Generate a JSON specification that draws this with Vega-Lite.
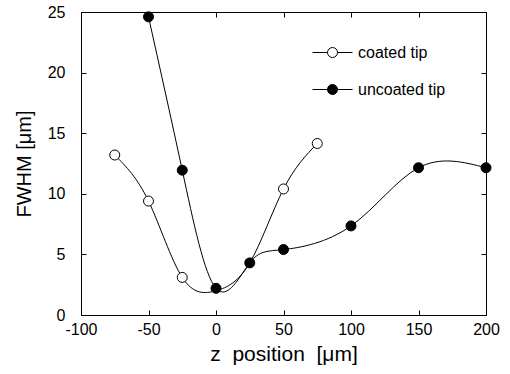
{
  "$schema": "https://vega.github.io/schema/vega-lite/v6.json",
  "autosize": "none",
  "width": 405,
  "height": 303,
  "padding": {"left": 81, "top": 12, "right": 24, "bottom": 59},
  "background": "white",
  "config": {
    "font": "Liberation Sans",
    "view": {"stroke": "black", "strokeWidth": 1},
    "axis": {"grid": false, "domainColor": "black", "tickColor": "black", "labelColor": "black", "titleColor": "black", "labelFont": "Liberation Sans", "titleFont": "Liberation Sans", "labelFontSize": 16, "titleFontSize": 20, "titleFontWeight": "normal", "tickSize": -5, "domainWidth": 1, "tickWidth": 1}
  },
  "data": {"values": [
    {"series": "coated tip", "z": -75, "fwhm": 13.2},
    {"series": "coated tip", "z": -50, "fwhm": 9.4},
    {"series": "coated tip", "z": -25, "fwhm": 3.1},
    {"series": "coated tip", "z": 0, "fwhm": 2.0},
    {"series": "coated tip", "z": 25, "fwhm": 4.3},
    {"series": "coated tip", "z": 50, "fwhm": 10.4},
    {"series": "coated tip", "z": 75, "fwhm": 14.15},
    {"series": "uncoated tip", "z": -50, "fwhm": 24.6},
    {"series": "uncoated tip", "z": -25, "fwhm": 11.95},
    {"series": "uncoated tip", "z": 0, "fwhm": 2.2},
    {"series": "uncoated tip", "z": 25, "fwhm": 4.3},
    {"series": "uncoated tip", "z": 50, "fwhm": 5.4},
    {"series": "uncoated tip", "z": 100, "fwhm": 7.35},
    {"series": "uncoated tip", "z": 150, "fwhm": 12.15},
    {"series": "uncoated tip", "z": 200, "fwhm": 12.15}
  ]},
  "layer": [
    {
      "mark": {"type": "line", "interpolate": "natural", "color": "black", "strokeWidth": 1, "clip": false},
      "encoding": {
        "x": {"field": "z", "type": "quantitative", "scale": {"domain": [-100, 200], "nice": false, "zero": false}, "axis": {"orient": "bottom", "values": [-100, -50, 0, 50, 100, 150, 200], "labelExpr": "replace(datum.label, '\u2212', '-')", "title": "z\u00a0 position\u00a0 [\u03bcm]", "titleFontSize": 21, "labelPadding": 11, "titlePadding": 6, "labelFlush": false}},
        "y": {"field": "fwhm", "type": "quantitative", "scale": {"domain": [0, 25], "nice": false}, "axis": {"orient": "left", "values": [0, 5, 10, 15, 20, 25], "title": "FWHM  [\u03bcm]", "labelPadding": 21, "titlePadding": 13}},
        "detail": {"field": "series"}
      }
    },
    {
      "transform": [{"filter": "datum.series == 'uncoated tip' || (datum.z != 0 && datum.z != 25)"}],
      "mark": {"type": "point", "shape": "circle", "size": 100, "filled": true, "stroke": "black", "strokeWidth": 1, "opacity": 1, "clip": false},
      "encoding": {
        "x": {"field": "z", "type": "quantitative", "axis": {"orient": "top", "values": [-100, -50, 0, 50, 100, 150, 200], "labels": false, "title": null}},
        "y": {"field": "fwhm", "type": "quantitative", "axis": {"orient": "right", "values": [0, 5, 10, 15, 20, 25], "labels": false, "title": null}},
        "fill": {"field": "series", "type": "nominal", "scale": {"domain": ["coated tip", "uncoated tip"], "range": ["white", "black"]},
          "legend": {"title": null, "orient": "none", "legendX": 231, "legendY": 20, "padding": 0, "rowPadding": 8,
            "symbolType": "M-1,0H-0.25A0.25,0.25 0 1,1 0.25,0A0.25,0.25 0 1,1 -0.25,0M0.25,0H1",
            "symbolSize": 1600, "symbolStrokeColor": "black", "symbolStrokeWidth": 1, "symbolOpacity": 1,
            "labelFontSize": 16, "labelFont": "Liberation Sans", "labelColor": "black", "labelOffset": 5}},
        "order": {"field": "series"}
      }
    }
  ],
  "resolve": {"axis": {"x": "independent", "y": "independent"}}
}
